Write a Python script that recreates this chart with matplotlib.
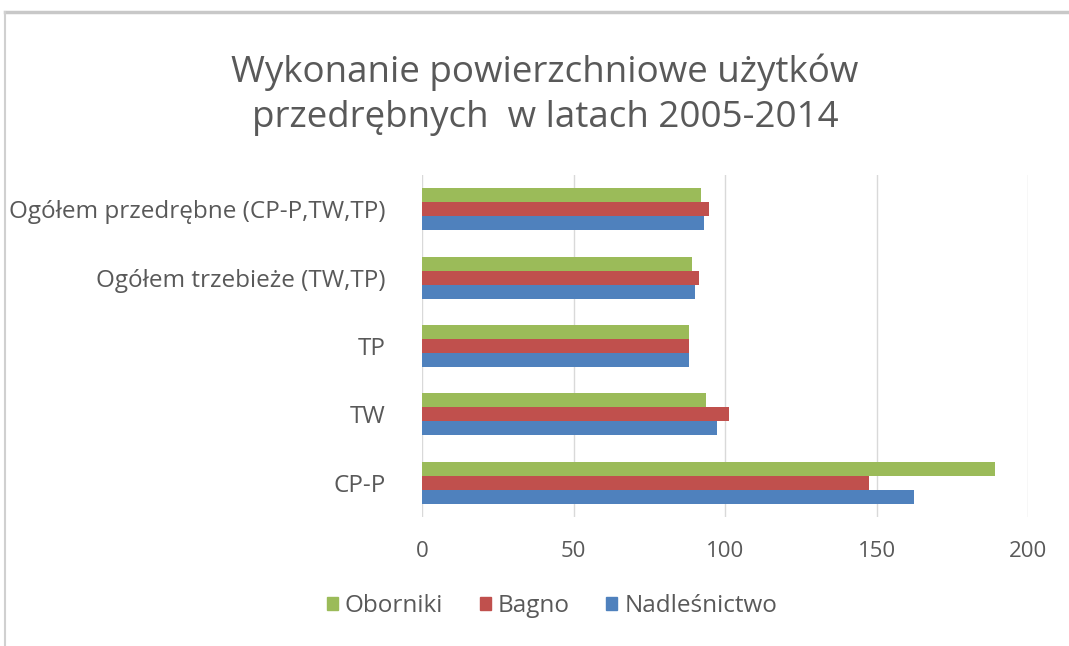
import matplotlib
matplotlib.use("Agg")
import matplotlib.pyplot as plt
import numpy as np
from matplotlib.lines import Line2D

plt.rcParams['font.family'] = ['Open Sans', 'DejaVu Sans']

categories = ["CP-P", "TW", "TP", "Ogółem trzebieże (TW,TP)", "Ogółem przedrębne (CP-P,TW,TP)"]
nadlesnictwo = [162.5, 97.4, 88.0, 90.1, 93.0]
bagno = [147.4, 101.3, 88.0, 91.4, 94.7]
oborniki = [189.2, 93.7, 88.0, 89.0, 92.0]
xticks = [0, 50, 100, 150, 200]

c_green = "#9BBB59"
c_red = "#C0504D"
c_blue = "#4F81BD"
txt = "#595959"

fig = plt.figure(figsize=(10.69, 6.46), dpi=100)
ax = fig.add_axes([422/1069, 1-517/646, (1028-422)/1069, (517-175)/646])

y = np.arange(len(categories)) + 0.5
h = 0.205
ax.barh(y - h, nadlesnictwo, height=h, color=c_blue, label="Nadleśnictwo")
ax.barh(y, bagno, height=h, color=c_red, label="Bagno")
ax.barh(y + h, oborniki, height=h, color=c_green, label="Oborniki")

ax.set_xlim(0, 200)
ax.set_ylim(0, len(categories))
ax.set_xticks(xticks)
ax.set_yticks(y)
ax.set_yticklabels(categories)
ax.tick_params(axis='x', length=0, labelsize=16, colors=txt, pad=17)
ax.tick_params(axis='y', length=0, labelsize=17.5, colors=txt, pad=26)
ax.grid(axis='x', color="#D9D9D9", linewidth=1)
ax.set_axisbelow(True)
for s in ax.spines.values():
    s.set_visible(False)

fig.text(545/1069, 1-72/646, "Wykonanie powierzchniowe użytków", ha='center', va='center',
         fontsize=26.5, color=txt)
fig.text(545/1069, 1-118/646, "przedrębnych  w latach 2005-2014", ha='center', va='center',
         fontsize=26.5, color=txt)

handles = [plt.Rectangle((0, 0), 1, 1, color=c) for c in (c_green, c_red, c_blue)]
fig.legend(handles, ["Oborniki", "Bagno", "Nadleśnictwo"], loc='center',
           bbox_to_anchor=(552/1069, 1-606/646), ncol=3, frameon=False,
           fontsize=17.5, labelcolor=txt, handlelength=0.45, handleheight=0.45,
           handletextpad=0.3, columnspacing=1.5)

# outer frame of chart area
fig.add_artist(Line2D([5/1069, 1], [1-12/646, 1-12/646], color="#C8C8C8", linewidth=2.5))
fig.add_artist(Line2D([5/1069, 5/1069], [0, 1-12/646], color="#D0D0D0", linewidth=1.5))

fig.savefig("out.png", dpi=100, facecolor="white")
